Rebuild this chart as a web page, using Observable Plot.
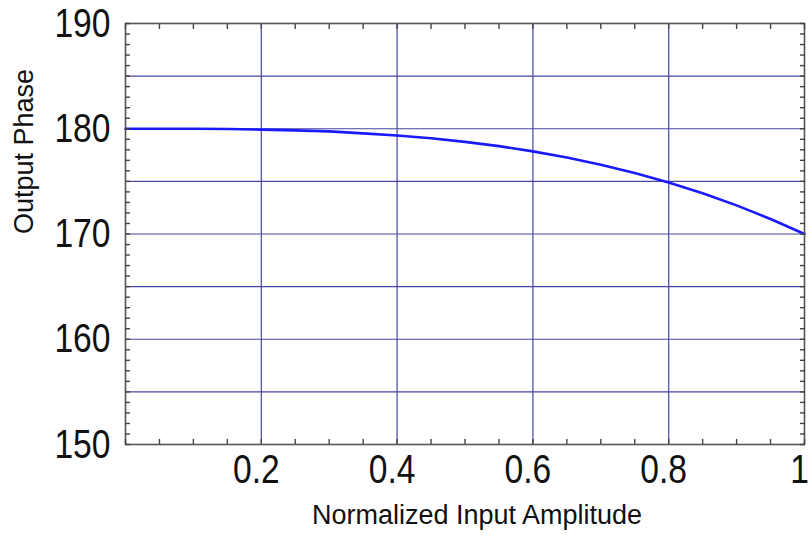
<!DOCTYPE html>
<html>
<head>
<meta charset="utf-8">
<script src="https://cdn.jsdelivr.net/npm/d3@7"></script>
<script src="https://cdn.jsdelivr.net/npm/@observablehq/plot@0.6"></script>
<style>
  html, body { margin: 0; padding: 0; background: #fff; }
  svg { display: block; }
</style>
</head>
<body>
<div id="chart"></div>
<script>
const amplitude = [0, 0.05, 0.1, 0.15, 0.2, 0.25, 0.3, 0.35, 0.4, 0.45, 0.5, 0.55, 0.6, 0.65, 0.7, 0.75, 0.8, 0.85, 0.9, 0.95, 1.0];
const phase = [180, 180, 180, 179.98, 179.92, 179.85, 179.75, 179.56, 179.36, 179.1, 178.75, 178.35, 177.85, 177.27, 176.58, 175.8, 174.9, 173.88, 172.72, 171.43, 170.0];
const xTickLabels = [0.2, 0.4, 0.6, 0.8, 1];
const yTickLabels = [150, 160, 170, 180, 190];
const xGrid = [0.2, 0.4, 0.6, 0.8];
const yGrid = [155, 160, 165, 170, 175, 180, 185];
const xMinor = d3.range(0, 1.0001, 0.05);
const yMinor = d3.range(150, 190.5, 1);
const xLabel = "Normalized Input Amplitude";
const yLabel = "Output Phase";

const data = amplitude.map((a, i) => ({a, p: phase[i]}));
const font = "'Liberation Sans', Arial, sans-serif";
const gridColor = "#4646a0";
const tickColor = "#444";

const chart = Plot.plot({
  width: 809,
  height: 535,
  marginLeft: 125,
  marginRight: 5,
  marginTop: 23,
  marginBottom: 91,
  style: {fontFamily: font, background: "#fff", overflow: "visible"},
  x: {domain: [0, 1]},
  y: {domain: [150, 190]},
  marks: [
    Plot.ruleX(xGrid, {stroke: gridColor, strokeWidth: 1.2}),
    Plot.ruleY(yGrid, {stroke: gridColor, strokeWidth: 1.2}),
    Plot.line(data, {x: "a", y: "p", stroke: "#1a1aff", strokeWidth: 2.6}),
    Plot.frame({stroke: "#555", strokeWidth: 1.6}),
    // minor ticks pointing inward
    Plot.axisX({ticks: xMinor, anchor: "bottom", tickSize: 5, dy: -5, text: null, label: null, stroke: tickColor, strokeWidth: 1.4}),
    Plot.axisX({ticks: xMinor, anchor: "top", tickSize: 5, dy: 5, text: null, label: null, stroke: tickColor, strokeWidth: 1.4}),
    Plot.axisY({ticks: yMinor, anchor: "left", tickSize: 5, dx: 5, text: null, label: null, stroke: tickColor, strokeWidth: 1.4}),
    Plot.axisY({ticks: yMinor, anchor: "right", tickSize: 5, dx: -5, text: null, label: null, stroke: tickColor, strokeWidth: 1.4}),
    // tick labels
    Plot.axisX({ticks: xTickLabels, anchor: "bottom", tickSize: 0, tickPadding: 9, dx: -5, fontSize: 41, fill: "#111", label: null, tickFormat: d => String(d)}),
    Plot.axisY({ticks: yTickLabels, anchor: "left", tickSize: 0, tickPadding: 15, fontSize: 41, fill: "#111", label: null}),
    // axis titles
    Plot.text([xLabel], {frameAnchor: "bottom", dx: 12, dy: 71, fontSize: 27, fill: "#111", lineAnchor: "middle", text: d => d}),
    Plot.text([yLabel], {frameAnchor: "left", dx: -101, dy: 0, rotate: -90, fontSize: 27, fill: "#111", lineAnchor: "middle", text: d => d})
  ]
});
document.getElementById("chart").appendChild(chart);

// narrow the large tick-label glyphs (the reference uses a condensed face)
chart.querySelectorAll("text").forEach(t => {
  const fs = parseFloat(t.getAttribute("font-size") || (t.parentNode && t.parentNode.getAttribute && t.parentNode.getAttribute("font-size")) || "0");
  if (fs >= 40) {
    const w = t.getComputedTextLength();
    t.setAttribute("textLength", (w * 0.82).toFixed(1));
    t.setAttribute("lengthAdjust", "spacingAndGlyphs");
  }
});
</script>
</body>
</html>
